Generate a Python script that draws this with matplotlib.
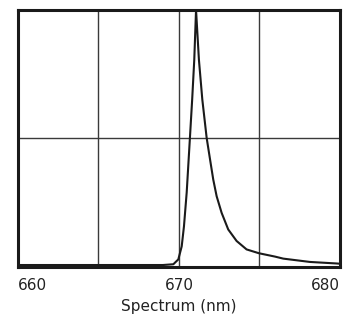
import numpy as np
import matplotlib.pyplot as plt

# spectrum (wavelength in nm, relative intensity)
wavelength = [660.0, 665.0, 669.0, 669.65, 669.96, 670.17, 670.31, 670.48, 670.68,
              670.82, 670.95, 671.06, 671.24, 671.45, 671.72, 671.93,
              672.13, 672.34, 672.65, 673.06, 673.58, 674.2, 674.97, 675.96,
              676.48, 678.14, 679.8, 680.0]
intensity = [0.003, 0.003, 0.003, 0.006, 0.025, 0.076, 0.154, 0.287, 0.50,
             0.65, 0.805, 1.0, 0.805, 0.65, 0.50, 0.416,
             0.337, 0.272, 0.207, 0.142, 0.097, 0.064, 0.049, 0.036,
             0.028, 0.015, 0.009, 0.008]

tick_pos = [660, 670, 680]
tick_labels = ["660", "670", "680"]
grid_x = [665, 670, 675]
grid_y = [0.5]

fig = plt.figure(figsize=(3.53, 3.33), dpi=100)
ax = fig.add_axes([0.051, 0.198, 0.912, 0.772])

for gx in grid_x:
    ax.axvline(gx, color="#3a3a3a", lw=1.0, zorder=1)
for gy in grid_y:
    ax.axhline(gy, color="#3a3a3a", lw=1.0, zorder=1)

ax.plot(wavelength, intensity, color="#1a1a1a", lw=1.5, zorder=2,
        solid_joinstyle="round")

ax.set_xlim(660, 680)
ax.set_ylim(-0.005, 1.0)
ax.set_yticks([])
ax.set_xticks(tick_pos)
ax.set_xticklabels(tick_labels, fontsize=11, color="#222222")
ax.tick_params(axis="x", length=0, pad=8)
labels = ax.get_xticklabels()
labels[0].set_ha("left")
labels[-1].set_ha("right")
ax.set_xlabel("Spectrum (nm)", fontsize=11, color="#222222", labelpad=4)

for s in ax.spines.values():
    s.set_linewidth(2.2)
    s.set_color("#1a1a1a")

fig.savefig("out.png", dpi=100)
